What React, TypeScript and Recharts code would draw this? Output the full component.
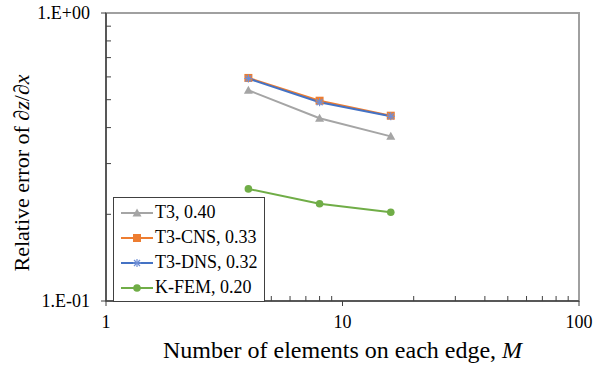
import { LineChart, Line, XAxis, YAxis, Legend, ReferenceArea, Label } from 'recharts'

const edges = [4, 8, 16]
const t3 = [0.539, 0.431, 0.373]
const t3Cns = [0.595, 0.496, 0.44]
const t3Dns = [0.592, 0.49, 0.438]
const kFem = [0.245, 0.2175, 0.2034]

const xTicks = [1, 2, 3, 4, 5, 6, 7, 8, 9, 10, 20, 30, 40, 50, 60, 70, 80, 90, 100]
const yTicks = [0.1, 0.2, 0.3, 0.4, 0.5, 0.6, 0.7, 0.8, 0.9, 1]
const xMajor = [1, 10, 100]
const yMajorLabels: Record<string, string> = { '0.1': '1.E-01', '1': '1.E+00' }

const data = edges.map((m, i) => ({
  m,
  t3: t3[i],
  cns: t3Cns[i],
  dns: t3Dns[i],
  kfem: kFem[i],
}))

const series = [
  { key: 't3', name: 'T3, 0.40', color: '#a5a5a5', shape: 'triangle' },
  { key: 'cns', name: 'T3-CNS, 0.33', color: '#ed7d31', shape: 'square' },
  { key: 'dns', name: 'T3-DNS, 0.32', color: '#4472c4', shape: 'star' },
  { key: 'kfem', name: 'K-FEM, 0.20', color: '#70ad47', shape: 'circle' },
]

const FONT = '"Liberation Serif", serif'
const AXIS = '#404040'

const Marker = ({ cx, cy, shape, color }: any) => {
  if (cx == null || cy == null) return null
  if (shape === 'triangle') {
    return <polygon points={`${cx},${cy - 4.5} ${cx - 4.5},${cy + 3.5} ${cx + 4.5},${cy + 3.5}`} fill={color} />
  }
  if (shape === 'square') {
    return <rect x={cx - 4} y={cy - 4} width={8} height={8} fill={color} />
  }
  if (shape === 'star') {
    return (
      <g stroke="#6f8fd6" strokeWidth={1.2}>
        <line x1={cx - 4} y1={cy} x2={cx + 4} y2={cy} />
        <line x1={cx} y1={cy - 4} x2={cx} y2={cy + 4} />
        <line x1={cx - 3} y1={cy - 3} x2={cx + 3} y2={cy + 3} />
        <line x1={cx - 3} y1={cy + 3} x2={cx + 3} y2={cy - 3} />
      </g>
    )
  }
  return <circle cx={cx} cy={cy} r={3.8} fill={color} />
}

const XTick = ({ x, y, payload }: any) => {
  const major = xMajor.includes(payload.value)
  return (
    <g>
      <line x1={x} x2={x} y1={major ? y + 5 : y - 5} y2={y} stroke={AXIS} strokeWidth={1} />
      {major && (
        <text x={x} y={y + 27} textAnchor="middle" fontSize={18} fontFamily={FONT} fill="#000">
          {payload.value}
        </text>
      )}
    </g>
  )
}

const YTick = ({ x, y, payload }: any) => {
  const label = yMajorLabels[String(payload.value)]
  return (
    <g>
      <line x1={label ? x - 5 : x + 5} x2={x} y1={y} y2={y} stroke={AXIS} strokeWidth={1} />
      {label && (
        <text x={x - 16} y={y + 6} textAnchor="end" fontSize={18} fontFamily={FONT} fill="#000">
          {label}
        </text>
      )}
    </g>
  )
}

const LegendBox = () => (
  <div
    style={{
      border: '1px solid #404040',
      background: '#fff',
      padding: '2px 6px 1px 7px',
      fontFamily: FONT,
      fontSize: 18,
      lineHeight: '25px',
    }}
  >
    {series.map((s) => (
      <div key={s.key} style={{ display: 'flex', alignItems: 'center', whiteSpace: 'nowrap' }}>
        <svg width={32} height={14} style={{ marginRight: 2 }}>
          <line x1={0} x2={32} y1={7} y2={7} stroke={s.color} strokeWidth={2} />
          <Marker cx={16} cy={7} shape={s.shape} color={s.color} />
        </svg>
        <span>{s.name}</span>
      </div>
    ))}
  </div>
)

export default function App() {
  return (
    <div style={{ position: 'absolute', left: 0, top: 0, background: '#fff' }}>
      <LineChart width={606} height={369} data={data} margin={{ top: 13, right: 27, left: 0, bottom: 0 }}>
        <ReferenceArea x1={1} x2={100} y1={0.1} y2={1} fill="none" stroke="#a0a0a0" strokeWidth={2} ifOverflow="visible" />
        <XAxis
          dataKey="m"
          type="number"
          scale="log"
          domain={[1, 100]}
          ticks={xTicks}
          interval={0}
          allowDataOverflow
          height={68}
          tickSize={0}
          tickMargin={0}
          tickLine={false}
          axisLine={{ stroke: AXIS, strokeWidth: 1.5 }}
          tick={<XTick />}
        >
          <Label
            content={({ viewBox }: any) => (
              <text
                x={viewBox.x + viewBox.width / 2}
                y={viewBox.y + 57}
                textAnchor="middle"
                fontSize={24}
                fontFamily={FONT}
                fill="#000"
              >
                Number of elements on each edge, <tspan fontStyle="italic">M</tspan>
              </text>
            )}
          />
        </XAxis>
        <YAxis
          type="number"
          scale="log"
          domain={[0.1, 1]}
          ticks={yTicks}
          interval={0}
          allowDataOverflow
          width={106}
          tickSize={0}
          tickMargin={0}
          tickLine={false}
          axisLine={{ stroke: AXIS, strokeWidth: 1.5 }}
          tick={<YTick />}
        >
          <Label
            content={({ viewBox }: any) => {
              const cx = 29
              const cy = viewBox.y + viewBox.height / 2 + 16
              return (
                <text
                  x={cx}
                  y={cy}
                  transform={`rotate(-90 ${cx} ${cy})`}
                  textAnchor="middle"
                  fontSize={22}
                  fontFamily={FONT}
                  fill="#000"
                >
                  Relative error of ∂<tspan fontStyle="italic">z</tspan>/∂<tspan fontStyle="italic">x</tspan>
                </text>
              )
            }}
          />
        </YAxis>
        <Legend
          content={<LegendBox />}
          layout="vertical"
          align="center"
          verticalAlign="middle"
          wrapperStyle={{ position: 'absolute', left: 113, top: 197, width: 'auto', height: 'auto' }}
        />
        {series.map((s) => (
          <Line
            key={s.key}
            dataKey={s.key}
            name={s.name}
            stroke={s.color}
            strokeWidth={2}
            isAnimationActive={false}
            dot={(p: any) => <Marker key={`${s.key}-${p.index}`} cx={p.cx} cy={p.cy} shape={s.shape} color={s.color} />}
          />
        ))}
      </LineChart>
    </div>
  )
}
